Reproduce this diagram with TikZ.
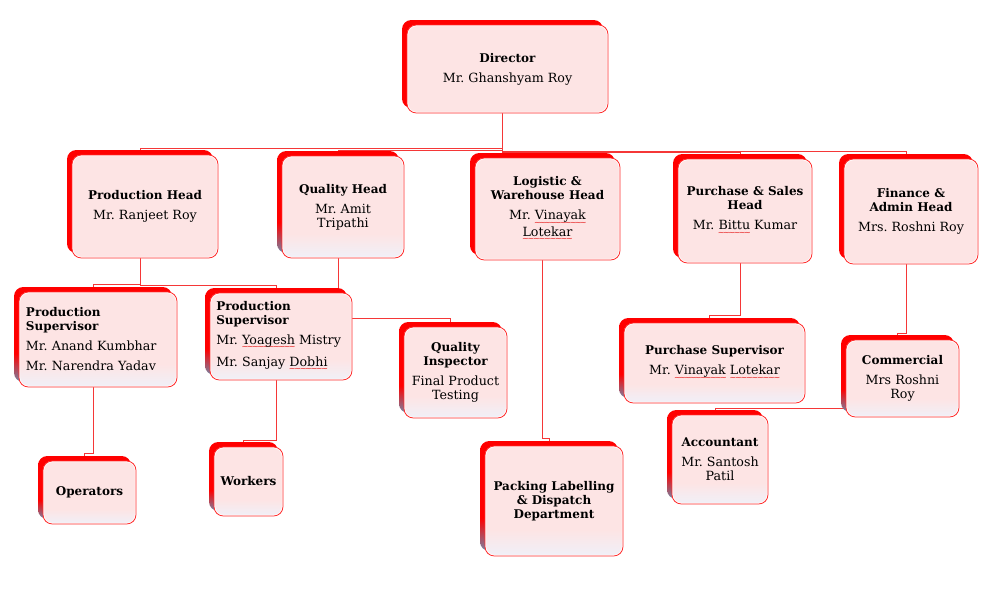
\documentclass[tikz,border=0pt]{standalone}
\usepackage{fontspec}
\setmainfont{DejaVu Serif}
\newfontfamily\symf{DejaVu Sans}
\frenchspacing
\pgfdeclarelayer{background}
\pgfsetlayers{background,main}
\definecolor{pinkc}{RGB}{253,228,228}
\definecolor{lavc}{RGB}{240,240,248}
\definecolor{bgray}{RGB}{125,125,155}
\definecolor{edgec}{RGB}{255,45,45}
\definecolor{connc}{RGB}{245,55,55}
\definecolor{squigc}{RGB}{230,30,30}
\pgfdeclareverticalshading{frontsh}{100bp}{color(0bp)=(lavc); color(25bp)=(lavc); color(37bp)=(pinkc); color(100bp)=(pinkc)}
\pgfdeclareverticalshading{backsh}{100bp}{color(0bp)=(bgray); color(26bp)=(bgray); color(40bp)=(red); color(100bp)=(red)}
\newcommand\squig[1]{\setbox0\hbox{#1}\rlap{\lower3.9pt\hbox to\wd0{\color{squigc}\xleaders\hbox{\symf\fontsize{6}{6}\selectfont\kern-0.6pt\symbol{"223C}\kern-0.6pt}\hfill}}\box0\relax}
\newcommand\namefont{\fontsize{9.5}{10.5}\selectfont}
\newcommand\ttl[1]{{\fontsize{9}{10.5}\selectfont\bfseries #1}}
\tikzset{
  backplain/.style={rectangle, rounded corners=7pt, fill=red, inner sep=0pt},
  backgrad/.style={rectangle, rounded corners=7pt, shading=backsh, inner sep=0pt},
  frontbase/.style={rectangle, rounded corners=7pt, draw=edgec, line width=0.6pt,
    inner sep=2pt, align=center, font=\namefont,
    path picture={\draw[white, line width=1.8pt, rounded corners=7pt]
      (path picture bounding box.south west) rectangle (path picture bounding box.north east);}},
  frontplain/.style={frontbase, fill=pinkc},
  frontgrad/.style={frontbase, shading=frontsh},
  conn/.style={draw=connc, line width=0.7pt},
}
% #1 name, #2 x1, #3 y1, #4 x2, #5 y2, #6 back style, #7 front style, #8 text
\newcommand\obox[8]{%
  \node[#6, minimum width={(#4-#2)*0.75pt}, minimum height={(#5-#3)*0.75pt}]
    (#1) at ({(#2+#4)/2-5},{(#3+#5)/2-5}) {};
  \node[#7, minimum width={(#4-#2)*0.75pt}, minimum height={(#5-#3)*0.75pt}]
    (#1f) at ({(#2+#4)/2},{(#3+#5)/2}) {#8};
}
\begin{document}
\begin{tikzpicture}[x=0.75pt,y=-0.75pt]
\useasboundingbox (0,0) rectangle (990,603);

\obox{dir}{407}{25}{608}{113}{backplain}{frontplain}{\ttl{Director}\\[4.5pt]Mr. Ghanshyam Roy}
\obox{ph}{72}{155}{218}{258}{backplain}{frontplain}{\ttl{Production Head}\\[4.5pt]Mr. Ranjeet Roy}
\obox{qh}{282}{156}{404}{258}{backgrad}{frontgrad}{\ttl{Quality Head}\\[4.5pt]Mr. Amit\\Tripathi}
\obox{lg}{475}{158}{620}{260}{backplain}{frontplain}{\ttl{Logistic \&}\\\ttl{Warehouse Head}\\[4.5pt]Mr. \squig{Vinayak}\\\squig{Lotekar}}
\obox{ps}{678}{159}{812}{263}{backplain}{frontplain}{\ttl{Purchase \& Sales}\\\ttl{Head}\\[4.5pt]Mr. \squig{Bittu} Kumar}
\obox{fi}{844}{159}{978}{264}{backplain}{frontplain}{\ttl{Finance \&}\\\ttl{Admin Head}\\[4.5pt]Mrs. Roshni Roy}

\obox{sup1}{19}{292}{177}{387}{backgrad}{frontgrad, align=left, text width=108pt, inner xsep=0pt}{\ttl{Production}\\\ttl{Supervisor}\\[4.5pt]Mr. Anand Kumbhar\\[4.5pt]Mr. Narendra Yadav}
\obox{sup2}{210}{293}{352}{380}{backgrad}{frontgrad, align=left, text width=97pt, inner xsep=0pt}{\ttl{Production}\\\ttl{Supervisor}\\[4.5pt]Mr. \squig{Yoagesh} Mistry\\[4.5pt]Mr. Sanjay \squig{Dobhi}}
\obox{qi}{404}{327}{507}{418}{backgrad}{frontgrad}{\ttl{Quality}\\\ttl{Inspector}\\[4.5pt]Final Product\\Testing}
\obox{psup}{624}{323}{805}{403}{backgrad}{frontgrad}{\ttl{Purchase Supervisor}\\[4.5pt]Mr. \squig{Vinayak} \squig{Lotekar}}
\obox{com}{846}{340}{959}{417}{backgrad}{frontgrad}{\ttl{Commercial}\\[4.5pt]Mrs Roshni\\Roy}
\obox{acc}{672}{415}{768}{504}{backgrad}{frontgrad}{\ttl{Accountant}\\[4.5pt]Mr. Santosh\\Patil}
\obox{op}{43}{461}{136}{524}{backgrad}{frontgrad}{\ttl{Operators}}
\obox{wk}{214}{447}{283}{516}{backgrad}{frontgrad}{\ttl{Workers}}
\obox{pk}{485}{446}{623}{556}{backgrad}{frontgrad}{\ttl{Packing Labelling}\\\ttl{\& Dispatch}\\\ttl{Department}}

\begin{pgfonlayer}{background}
\draw[conn] (dir.south) -- ++(0,40) -| (ph.north);
\draw[conn] (dir.south) -- ++(0,42) -| (qh.north);
\draw[conn] (dir.south) -- ++(0,44) -| (lg.north);
\draw[conn] (dir.south) -- ++(0,44) -| (ps.north);
\draw[conn] (dir.south) -- ++(0,43) -| (fi.north);
\draw[conn] (ph.south) -- ++(0,31) -| (sup1.north);
\draw[conn] (ph.south) -- ++(0,32) -| (sup2.north);
\draw[conn] (qh.south) -- ++(0,65) -| (qi.north);
\draw[conn] (sup1.south) -- ++(0,71) -| (op.north);
\draw[conn] (sup2.south) -- ++(0,65) -| (wk.north);
\draw[conn] (lg.south) -- ++(0,183) -| (pk.north);
\draw[conn] (ps.south) -- ++(0,57) -| (psup.north);
\draw[conn] (fi.south) -- ++(0,74) -| (com.north);
\draw[conn] (com.center) -- ++(0,34.5) -| (acc.north);
\end{pgfonlayer}
\end{tikzpicture}
\end{document}
